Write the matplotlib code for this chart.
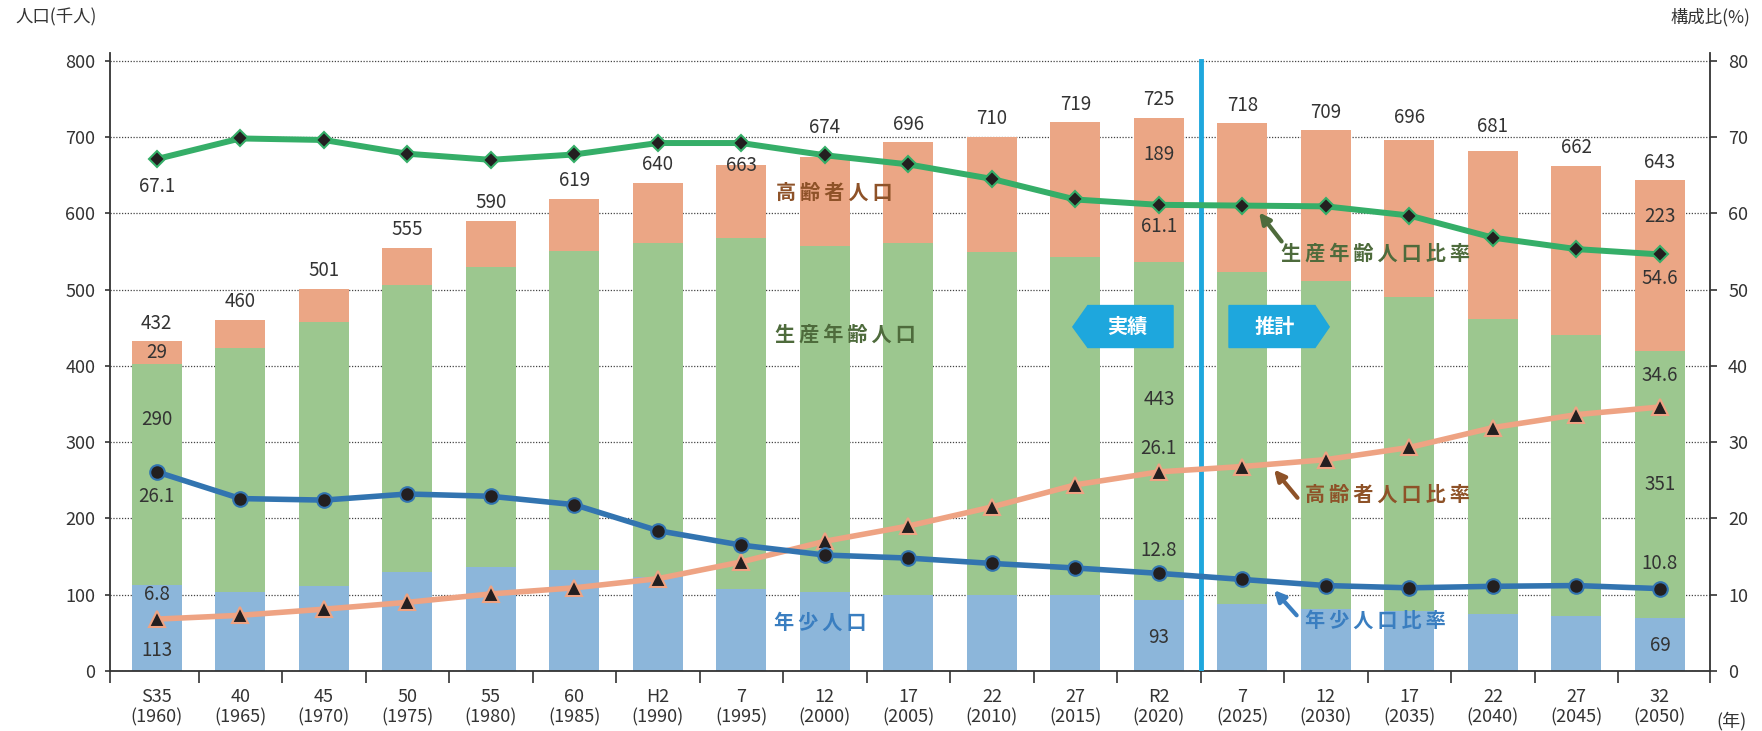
import numpy as np
import matplotlib.pyplot as plt
from matplotlib.patches import Polygon

plt.rcParams['font.family'] = ['Noto Sans CJK JP', 'DejaVu Sans']

era = ['S35', '40', '45', '50', '55', '60', 'H2', '7', '12', '17', '22', '27',
       'R2', '7', '12', '17', '22', '27', '32']
years = [1960, 1965, 1970, 1975, 1980, 1985, 1990, 1995, 2000, 2005, 2010, 2015,
         2020, 2025, 2030, 2035, 2040, 2045, 2050]

# population (thousand people)
young = [113, 104, 111, 130, 136, 133, 123, 107, 104, 99, 99, 99, 93, 88, 81, 78, 75, 72, 69]
working = [290, 320, 346, 376, 393, 418, 438, 461, 453, 462, 450, 443, 443, 435, 430, 412, 386, 368, 351]
elderly = [29, 36, 44, 49, 61, 68, 79, 95, 117, 132, 151, 177, 189, 195, 198, 206, 220, 222, 223]
total_labels = [432, 460, 501, 555, 590, 619, 640, 663, 674, 696, 710, 719, 725, 718, 709, 696, 681, 662, 643]

# share (%)
young_ratio = [26.1, 22.6, 22.4, 23.2, 22.9, 21.8, 18.4, 16.5, 15.2, 14.8, 14.1, 13.5, 12.8,
               12.0, 11.2, 10.9, 11.1, 11.2, 10.8]
working_ratio = [67.1, 69.8, 69.6, 67.8, 67.0, 67.7, 69.2, 69.2, 67.6, 66.4, 64.5, 61.8, 61.1,
                 61.0, 60.9, 59.7, 56.8, 55.3, 54.6]
elderly_ratio = [6.8, 7.3, 8.1, 9.0, 10.1, 10.9, 12.1, 14.3, 17.0, 19.0, 21.5, 24.4, 26.1,
                 26.8, 27.7, 29.3, 31.9, 33.6, 34.6]

C_YOUNG = '#8cb6da'
C_WORK = '#9cc78f'
C_OLD = '#eba685'
L_YOUNG = '#3274b0'
L_WORK = '#35ae68'
L_OLD = '#eea383'
T_YOUNG = '#3a7ec0'
T_WORK = '#4e6b3c'
T_OLD = '#8e5228'
C_BOX = '#1ea7dd'
DARK = '#333333'


def spaced(s):
    return '\u2009'.join(s)


def main():
    x = np.arange(len(era))
    young_a = np.array(young)
    working_a = np.array(working)
    elderly_a = np.array(elderly)
    top = young_a + working_a + elderly_a

    fig = plt.figure(figsize=(17.62, 7.31), dpi=100)
    ax = fig.add_axes([110 / 1762, 60 / 731, 1600 / 1762, 618 / 731])
    ax2 = ax.twinx()

    w = 0.6
    ax.bar(x, young_a, w, color=C_YOUNG, zorder=2)
    ax.bar(x, working_a, w, bottom=young_a, color=C_WORK, zorder=2)
    ax.bar(x, elderly_a, w, bottom=young_a + working_a, color=C_OLD, zorder=2)
    ax.plot([12.5, 12.5], [0, 800], color=C_BOX, lw=3.5, zorder=4)

    ax.set_xlim(-0.56, 18.6)
    ax.set_ylim(0, 810)
    ax2.set_ylim(0, 81)
    ax.set_yticks(range(0, 801, 100))
    ax2.set_yticks(range(0, 81, 10))
    ax.set_axisbelow(True)
    ax.yaxis.grid(True, linestyle=(0, (1, 1.3)), color='#444444', lw=0.9)

    bounds = [-0.56] + [i + 0.5 for i in range(18)] + [18.6]
    ax.set_xticks(bounds, labels=[''] * len(bounds))
    ax.set_xticks(x, labels=[f'{e}\n({y})' for e, y in zip(era, years)], minor=True)
    ax.tick_params(axis='x', which='major', length=8.6, width=1.2, color=DARK)
    ax.tick_params(axis='x', which='minor', length=0, pad=12, labelsize=13, labelcolor=DARK)
    ax.tick_params(axis='y', length=3.5, width=1.2, color=DARK, pad=7, labelsize=13, labelcolor=DARK)
    ax2.tick_params(axis='y', length=5, width=1.2, color=DARK, pad=8, labelsize=13, labelcolor=DARK)

    for s in ['top', 'right']:
        ax.spines[s].set_visible(False)
    for s in ['top', 'left', 'bottom']:
        ax2.spines[s].set_visible(False)
    for sp in [ax.spines['left'], ax.spines['bottom'], ax2.spines['right']]:
        sp.set_color(DARK)
        sp.set_linewidth(1.3)

    # ratio lines
    ax2.plot(x, elderly_ratio, color=L_OLD, lw=4, marker='^', ms=12,
             mfc='#231f20', mec=L_OLD, mew=1.5, zorder=2)
    ax2.plot(x, young_ratio, color=L_YOUNG, lw=4, marker='o', ms=10.5,
             mfc='#231f20', mec=L_YOUNG, mew=1.5, zorder=2)
    ax2.plot(x, working_ratio, color=L_WORK, lw=4.3, marker='D', ms=8.5,
             mfc='#231f20', mec=L_WORK, mew=1.5, zorder=2)

    # totals above bars
    offsets = {7: 0, 8: 21, 15: 16, 16: 18}
    for i in x:
        ax2.annotate(f'{total_labels[i]}', (i, top[i]), xycoords=ax.transData,
                     xytext=(0, offsets.get(i, 13)), textcoords='offset points',
                     ha='center', va='center', fontsize=13.5, color=DARK, zorder=5)

    # labels inside the bars: elderly, working, young, working %, young %, elderly %
    inside_label_y = {
        0: (417, 330, 27, 635, 229, 100),
        12: (677, 356, 44, 582, 158, 292),
        18: (596, 245, 33, 514, 141, 387),
    }
    for i, ys in inside_label_y.items():
        texts = [f'{elderly[i]}', f'{working[i]}', f'{young[i]}',
                 f'{working_ratio[i]:.1f}', f'{young_ratio[i]:.1f}', f'{elderly_ratio[i]:.1f}']
        for t, yy in zip(texts, ys):
            ax2.text(i, yy, t, transform=ax.transData, ha='center', va='center',
                     fontsize=13.5, color=DARK, zorder=5)

    # series names
    ax2.text(8.11, 627, spaced('高齢者人口'), transform=ax.transData, ha='center', va='center',
             fontsize=14.5, color=T_OLD, fontweight='bold', zorder=5)
    ax2.text(8.25, 442, spaced('生産年齢人口'), transform=ax.transData, ha='center', va='center',
             fontsize=14.5, color=T_WORK, fontweight='bold', zorder=5)
    ax2.text(7.95, 64, spaced('年少人口'), transform=ax.transData, ha='center', va='center',
             fontsize=14.5, color=T_YOUNG, fontweight='bold', zorder=5)

    arrows = [
        ('生産年齢人口比率', T_WORK, (14.6, 54.8), (13.2, 60.1), (13.47, 56.3)),
        ('高齢者人口比率', T_OLD, (14.74, 23.2), (13.38, 26.4), (13.66, 22.7)),
        ('年少人口比率', T_YOUNG, (14.59, 6.7), (13.38, 10.6), (13.65, 7.3)),
    ]
    for name, col, pos, tip, tail in arrows:
        ax2.text(pos[0], pos[1], spaced(name), ha='center', va='center', fontsize=14.5,
                 color=col, fontweight='bold', zorder=5)
        ax2.annotate('', xy=tip, xytext=tail,
                     arrowprops=dict(arrowstyle='-|>', color=col, lw=3, mutation_scale=16,
                                     shrinkA=0, shrinkB=0), zorder=5)

    # 実績 / 推計 tags
    ax.add_patch(Polygon([(10.97, 451), (11.15, 479), (12.17, 479), (12.17, 424), (11.15, 424)],
                         closed=True, color=C_BOX, zorder=3))
    ax.add_patch(Polygon([(12.84, 479), (13.87, 479), (14.04, 451), (13.87, 424), (12.84, 424)],
                         closed=True, color=C_BOX, zorder=3))
    ax.text(11.62, 451, '実績', ha='center', va='center', fontsize=14.5, color='white',
            fontweight='bold', zorder=5)
    ax.text(13.39, 451, '推計', ha='center', va='center', fontsize=14.5, color='white',
            fontweight='bold', zorder=5)

    fig.text(15 / 1762, 1 - 17 / 731, '人口(千人)', ha='left', va='center', fontsize=12.5, color=DARK)
    fig.text(1750 / 1762, 1 - 17 / 731, '構成比(%)', ha='right', va='center', fontsize=12.5, color=DARK)
    fig.text(1731 / 1762, 1 - 721 / 731, '(年)', ha='center', va='center', fontsize=13, color=DARK)

    plt.savefig('out.png', dpi=100)


main()
